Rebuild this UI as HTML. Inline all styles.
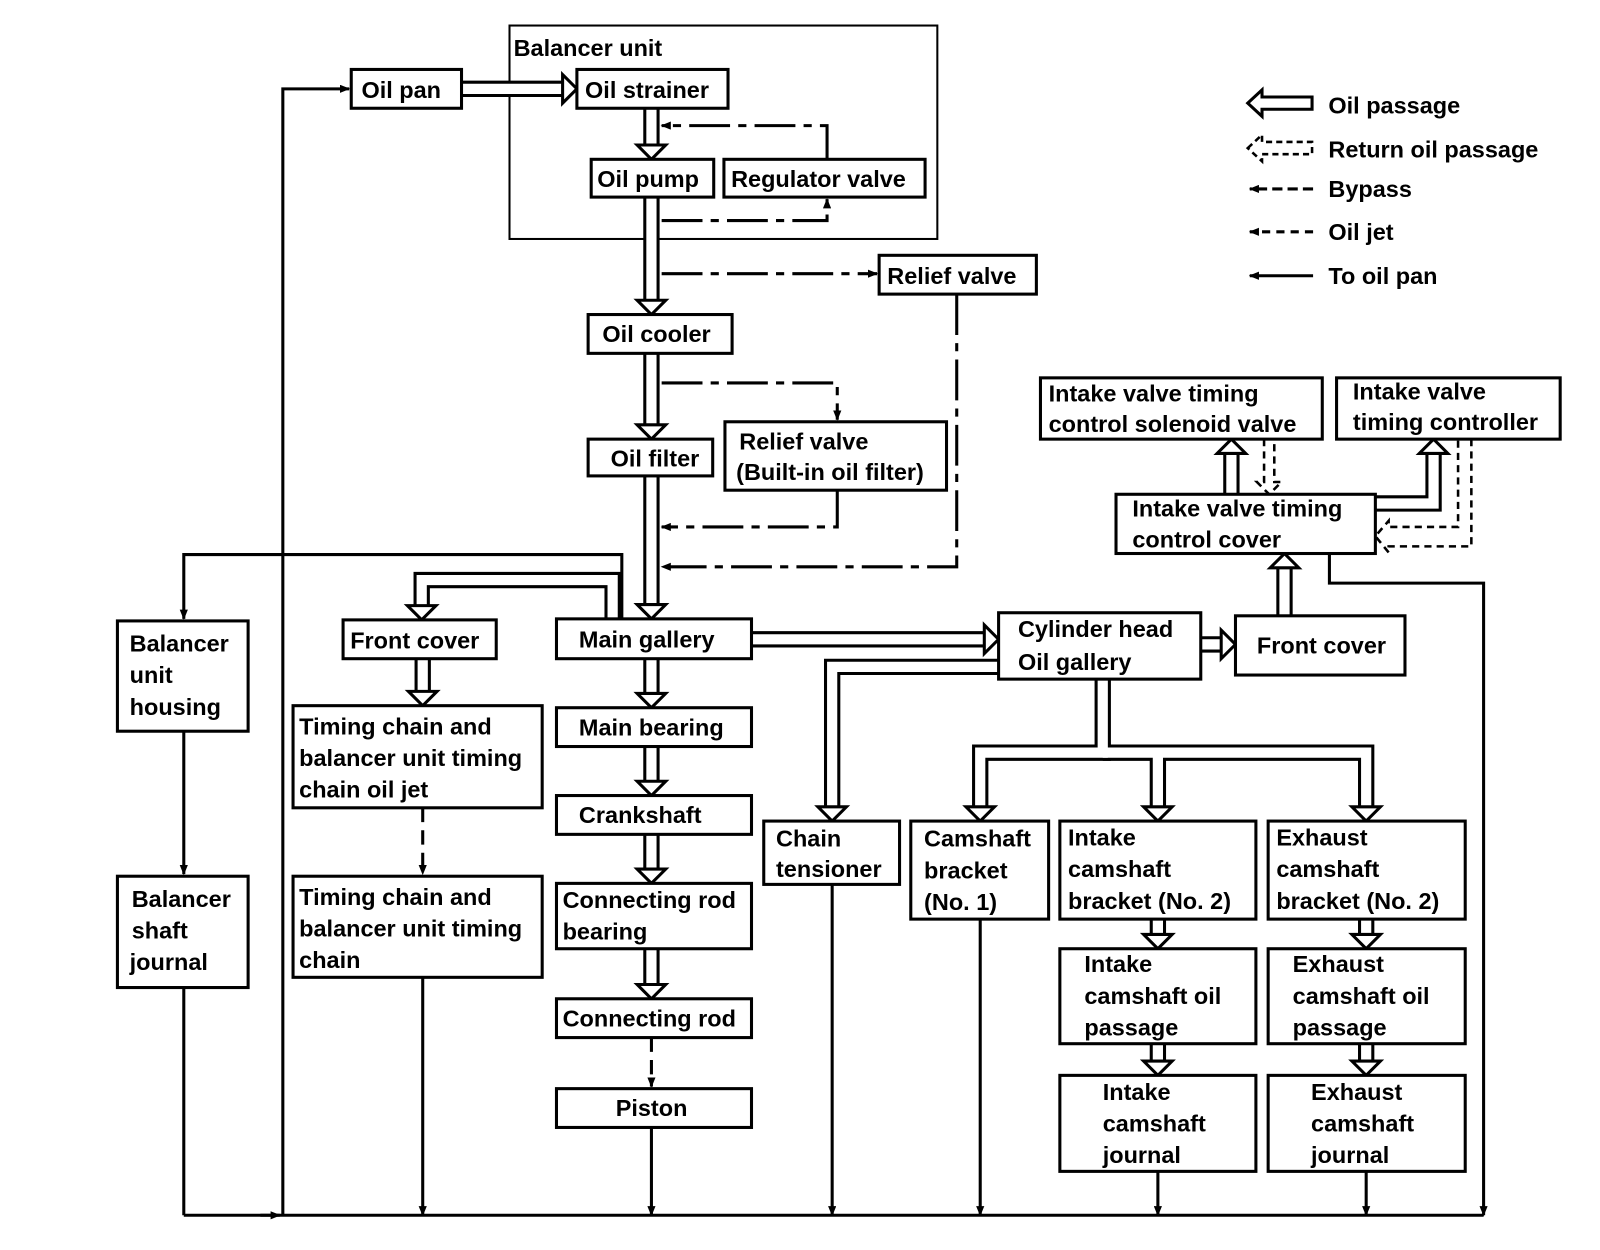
<!DOCTYPE html>
<html><head><meta charset="utf-8"><style>
html,body{margin:0;padding:0;background:#fff;}
svg{display:block}
text{font-family:"Liberation Sans",sans-serif;font-size:23px;font-weight:bold;fill:#000}
.b{fill:#fff;stroke:#000;stroke-width:3}
.o{stroke:#000;stroke-width:16;fill:none}
.i{stroke:#fff;stroke-width:10;fill:none}
.h{fill:#fff;stroke:#000;stroke-width:3;stroke-linejoin:miter}
.t{stroke:#000;stroke-width:3;fill:none}
.d{stroke:#000;stroke-width:3;fill:none;stroke-dasharray:14 8}
.dd{stroke:#000;stroke-width:3;fill:none;stroke-dasharray:40 8 8 8}
</style></head><body>
<svg width="1600" height="1250" viewBox="0 0 1567 1224" preserveAspectRatio="none" xmlns="http://www.w3.org/2000/svg">
<defs>
<marker id="a" markerWidth="10" markerHeight="8" refX="9" refY="4" orient="auto" markerUnits="userSpaceOnUse"><path d="M0,0 L10,4 L0,8 z" fill="#000"/></marker>
</defs>

<rect x="499" y="25" width="419" height="209" fill="none" stroke="#000" stroke-width="2"/>

<polyline class="t" points="277,1190 277,87 342,87" marker-end="url(#a)"/>
<line class="t" x1="180" y1="1190" x2="1453" y2="1190"/>
<line class="t" x1="255" y1="1190" x2="274" y2="1190" marker-end="url(#a)"/>
<line class="t" x1="180" y1="967" x2="180" y2="1190"/>
<line class="t" x1="414" y1="957" x2="414" y2="1190" marker-end="url(#a)"/>
<line class="t" x1="638" y1="1104" x2="638" y2="1190" marker-end="url(#a)"/>
<line class="t" x1="815" y1="866" x2="815" y2="1190" marker-end="url(#a)"/>
<line class="t" x1="960" y1="900" x2="960" y2="1190" marker-end="url(#a)"/>
<line class="t" x1="1134" y1="1147" x2="1134" y2="1190" marker-end="url(#a)"/>
<line class="t" x1="1338" y1="1147" x2="1338" y2="1190" marker-end="url(#a)"/>
<polyline class="t" points="1302,542 1302,571 1453,571 1453,1190" marker-end="url(#a)"/>
<polyline class="t" points="609,606 609,543 180,543 180,606" marker-end="url(#a)"/>
<line class="t" x1="180" y1="716" x2="180" y2="856" marker-end="url(#a)"/>
<line class="d" x1="414" y1="791" x2="414" y2="856" marker-end="url(#a)"/>
<line class="d" x1="638" y1="1016" x2="638" y2="1064" marker-end="url(#a)"/>
<polyline class="dd" points="810,156 810,123 648,123" marker-end="url(#a)"/>
<polyline class="dd" points="648,216 810,216 810,195" marker-end="url(#a)"/>
<line class="dd" x1="648" y1="268" x2="859" y2="268" marker-end="url(#a)"/>
<polyline class="dd" points="937,288 937,555 648,555" marker-end="url(#a)"/>
<polyline class="dd" points="648,375 820,375 820,411" marker-end="url(#a)"/>
<polyline class="dd" points="820,480 820,516 648,516" marker-end="url(#a)"/>

<g class="o">
<line x1="638" y1="106" x2="638" y2="142"/>
<line x1="638" y1="193" x2="638" y2="294"/>
<line x1="638" y1="346" x2="638" y2="416"/>
<line x1="638" y1="466" x2="638" y2="592"/>
<line x1="638" y1="645" x2="638" y2="679"/>
<line x1="638" y1="731" x2="638" y2="765"/>
<line x1="638" y1="817" x2="638" y2="851"/>
<line x1="638" y1="929" x2="638" y2="964"/>
<line x1="414" y1="645" x2="414" y2="677"/>
<line x1="1134" y1="900" x2="1134" y2="915"/>
<line x1="1134" y1="1022" x2="1134" y2="1039"/>
<line x1="1338" y1="900" x2="1338" y2="915"/>
<line x1="1338" y1="1022" x2="1338" y2="1039"/>
<line x1="452" y1="87" x2="551" y2="87"/>
<line x1="736" y1="626" x2="964" y2="626"/>
<line x1="1176" y1="631" x2="1196" y2="631"/>
<line x1="1258" y1="603" x2="1258" y2="556"/>
<line x1="1206" y1="484" x2="1206" y2="444"/>
<polyline points="600,606 600,568 413,568 413,593"/>
<polyline points="978,653 815,653 815,790"/>
<polyline points="1080,665 1080,737 960,737 960,790"/>
<polyline points="1080,737 1338,737 1338,790"/>
<line x1="1134" y1="737" x2="1134" y2="790"/>
<polyline points="1347,493 1404,493 1404,444"/>
</g>
<g class="i">
<line x1="638" y1="104" x2="638" y2="144"/>
<line x1="638" y1="191" x2="638" y2="296"/>
<line x1="638" y1="344" x2="638" y2="418"/>
<line x1="638" y1="464" x2="638" y2="594"/>
<line x1="638" y1="643" x2="638" y2="681"/>
<line x1="638" y1="729" x2="638" y2="767"/>
<line x1="638" y1="815" x2="638" y2="853"/>
<line x1="638" y1="927" x2="638" y2="966"/>
<line x1="414" y1="643" x2="414" y2="679"/>
<line x1="1134" y1="898" x2="1134" y2="917"/>
<line x1="1134" y1="1020" x2="1134" y2="1041"/>
<line x1="1338" y1="898" x2="1338" y2="917"/>
<line x1="1338" y1="1020" x2="1338" y2="1041"/>
<line x1="450" y1="87" x2="553" y2="87"/>
<line x1="734" y1="626" x2="966" y2="626"/>
<line x1="1174" y1="631" x2="1198" y2="631"/>
<line x1="1258" y1="605" x2="1258" y2="554"/>
<line x1="1206" y1="486" x2="1206" y2="442"/>
<polyline points="600,608 600,568 413,568 413,595"/>
<polyline points="980,653 815,653 815,792"/>
<polyline points="1080,663 1080,737 960,737 960,792"/>
<polyline points="1080,737 1338,737 1338,792"/>
<line x1="1134" y1="737" x2="1134" y2="792"/>
<polyline points="1345,493 1404,493 1404,442"/>
</g>
<g class="h">
<polygon points="624,142 652,142 638,156"/>
<polygon points="624,294 652,294 638,308"/>
<polygon points="624,416 652,416 638,430"/>
<polygon points="624,592 652,592 638,606"/>
<polygon points="624,679 652,679 638,693"/>
<polygon points="624,765 652,765 638,779"/>
<polygon points="624,851 652,851 638,865"/>
<polygon points="624,964 652,964 638,978"/>
<polygon points="400,677 428,677 414,691"/>
<polygon points="399,593 427,593 413,607"/>
<polygon points="1120,915 1148,915 1134,929"/>
<polygon points="1120,1039 1148,1039 1134,1053"/>
<polygon points="1324,915 1352,915 1338,929"/>
<polygon points="1324,1039 1352,1039 1338,1053"/>
<polygon points="801,790 829,790 815,804"/>
<polygon points="946,790 974,790 960,804"/>
<polygon points="1120,790 1148,790 1134,804"/>
<polygon points="1324,790 1352,790 1338,804"/>
<polygon points="551,73 551,101 565,87"/>
<polygon points="964,612 964,640 978,626"/>
<polygon points="1196,617 1196,645 1210,631"/>
<polygon points="1244,556 1272,556 1258,542"/>
<polygon points="1192,444 1220,444 1206,430"/>
<polygon points="1390,444 1418,444 1404,430"/>
</g>
<g stroke="#000" stroke-width="2.5" fill="none" stroke-dasharray="7 5">
<polyline points="1238,430 1238,472 1231,472 1243,484 1255,472 1248,472 1248,430"/>
<polyline points="1441,430 1441,535 1360,535 1360,541 1347,525 1360,510 1360,516 1428,516 1428,430"/>
</g>

<rect class="b" x="344" y="68" width="108" height="38"/>
<rect class="b" x="565" y="68" width="148" height="38"/>
<rect class="b" x="579" y="156" width="120" height="37"/>
<rect class="b" x="709" y="156" width="197" height="37"/>
<rect class="b" x="861" y="250" width="154" height="38"/>
<rect class="b" x="576" y="308" width="141" height="38"/>
<rect class="b" x="576" y="430" width="122" height="36"/>
<rect class="b" x="710" y="413" width="217" height="67"/>
<rect class="b" x="545" y="606" width="191" height="39"/>
<rect class="b" x="336" y="607" width="150" height="38"/>
<rect class="b" x="115" y="608" width="128" height="108"/>
<rect class="b" x="287" y="691" width="244" height="100"/>
<rect class="b" x="287" y="858" width="244" height="99"/>
<rect class="b" x="115" y="858" width="128" height="109"/>
<rect class="b" x="545" y="693" width="191" height="38"/>
<rect class="b" x="545" y="779" width="191" height="38"/>
<rect class="b" x="545" y="865" width="191" height="64"/>
<rect class="b" x="545" y="978" width="191" height="38"/>
<rect class="b" x="545" y="1066" width="191" height="38"/>
<rect class="b" x="978" y="600" width="198" height="65"/>
<rect class="b" x="1210" y="603" width="166" height="58"/>
<rect class="b" x="1019" y="370" width="276" height="60"/>
<rect class="b" x="1309" y="370" width="219" height="60"/>
<rect class="b" x="1093" y="484" width="254" height="58"/>
<rect class="b" x="748" y="804" width="133" height="62"/>
<rect class="b" x="892" y="804" width="135" height="96"/>
<rect class="b" x="1038" y="804" width="192" height="96"/>
<rect class="b" x="1242" y="804" width="193" height="96"/>
<rect class="b" x="1038" y="929" width="192" height="93"/>
<rect class="b" x="1242" y="929" width="193" height="93"/>
<rect class="b" x="1038" y="1053" width="192" height="94"/>
<rect class="b" x="1242" y="1053" width="193" height="94"/>

<polygon class="h" points="1222,101 1236,88 1236,95 1285,95 1285,107 1236,107 1236,114" stroke-width="2.5"/>
<polygon points="1222,145 1236,132 1236,139 1285,139 1285,151 1236,151 1236,158" fill="none" stroke="#000" stroke-width="2.5" stroke-dasharray="6 4"/>
<line class="dd" x1="1286" y1="185" x2="1224" y2="185" marker-end="url(#a)" style="stroke-dasharray:10 5"/>
<line class="d" x1="1286" y1="227" x2="1224" y2="227" marker-end="url(#a)" style="stroke-dasharray:8 6"/>
<line class="t" x1="1286" y1="270" x2="1224" y2="270" marker-end="url(#a)"/>

<text x="503" y="55">Balancer unit</text>
<text x="354" y="96">Oil pan</text>
<text x="573" y="96">Oil strainer</text>
<text x="585" y="183">Oil pump</text>
<text x="716" y="183">Regulator valve</text>
<text x="869" y="278">Relief valve</text>
<text x="590" y="335">Oil cooler</text>
<text x="598" y="457">Oil filter</text>
<text x="724" y="440">Relief valve</text>
<text x="721" y="470">(Built-in oil filter)</text>
<text x="567" y="634">Main gallery</text>
<text x="343" y="635">Front cover</text>
<text x="127" y="638">Balancer</text>
<text x="127" y="669">unit</text>
<text x="127" y="700">housing</text>
<text x="293" y="719">Timing chain and</text>
<text x="293" y="750">balancer unit timing</text>
<text x="293" y="781">chain oil jet</text>
<text x="293" y="886">Timing chain and</text>
<text x="293" y="917">balancer unit timing</text>
<text x="293" y="948">chain</text>
<text x="129" y="888">Balancer</text>
<text x="129" y="919">shaft</text>
<text x="127" y="950">journal</text>
<text x="567" y="720">Main bearing</text>
<text x="567" y="806">Crankshaft</text>
<text x="551" y="889">Connecting rod</text>
<text x="551" y="920">bearing</text>
<text x="551" y="1005">Connecting rod</text>
<text x="603" y="1093">Piston</text>
<text x="997" y="624">Cylinder head</text>
<text x="997" y="656">Oil gallery</text>
<text x="1231" y="640">Front cover</text>
<text x="1027" y="393">Intake valve timing</text>
<text x="1027" y="423">control solenoid valve</text>
<text x="1325" y="391">Intake valve</text>
<text x="1325" y="421">timing controller</text>
<text x="1109" y="506">Intake valve timing</text>
<text x="1109" y="536">control cover</text>
<text x="760" y="829">Chain</text>
<text x="760" y="859">tensioner</text>
<text x="905" y="829">Camshaft</text>
<text x="905" y="860">bracket</text>
<text x="905" y="891">(No. 1)</text>
<text x="1046" y="828">Intake</text>
<text x="1046" y="859">camshaft</text>
<text x="1046" y="890">bracket (No. 2)</text>
<text x="1250" y="828">Exhaust</text>
<text x="1250" y="859">camshaft</text>
<text x="1250" y="890">bracket (No. 2)</text>
<text x="1062" y="952">Intake</text>
<text x="1062" y="983">camshaft oil</text>
<text x="1062" y="1014">passage</text>
<text x="1266" y="952">Exhaust</text>
<text x="1266" y="983">camshaft oil</text>
<text x="1266" y="1014">passage</text>
<text x="1080" y="1077">Intake</text>
<text x="1080" y="1108">camshaft</text>
<text x="1080" y="1139">journal</text>
<text x="1284" y="1077">Exhaust</text>
<text x="1284" y="1108">camshaft</text>
<text x="1284" y="1139">journal</text>
<text x="1301" y="111">Oil passage</text>
<text x="1301" y="154">Return oil passage</text>
<text x="1301" y="193">Bypass</text>
<text x="1301" y="235">Oil jet</text>
<text x="1301" y="278">To oil pan</text>
</svg>
</body></html>
